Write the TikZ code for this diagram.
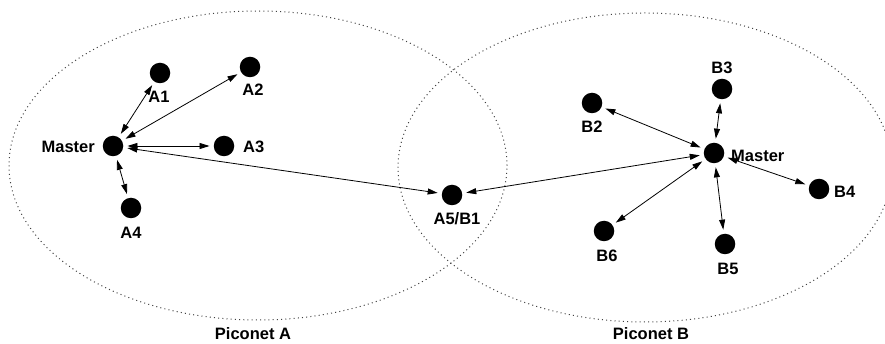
\documentclass[tikz,border=0pt]{standalone}
\usepackage{fontspec}
\setmainfont{Liberation Sans}
\usetikzlibrary{arrows.meta}
\begin{document}
\begin{tikzpicture}[x=1pt,y=-1pt,
  dev/.style={circle,fill=black,inner sep=0pt,minimum size=20.5pt},
  lbl/.style={font=\fontsize{16.5}{19}\selectfont\bfseries,inner sep=0pt},
  link/.style={{Triangle[length=10pt,width=6pt]}-{Triangle[length=10pt,width=6pt]},
    line width=0.8pt,shorten <=4pt,shorten >=4pt},
  piconet/.style={line width=1pt,dash pattern=on 1pt off 3.2pt,black!75}]
\useasboundingbox (0,0) rectangle (885,344);

% piconet boundaries
\draw[piconet] (258,165.5) ellipse [x radius=249pt,y radius=154.5pt];
\draw[piconet] (645,167.5) ellipse [x radius=247pt,y radius=154.5pt];

% piconet A devices
\node[dev] (ma) at (113,146) {};
\node[dev] (a1) at (160,73) {};
\node[dev] (a2) at (250,67) {};
\node[dev] (a3) at (224,146) {};
\node[dev] (a4) at (131,208) {};
% shared device
\node[dev] (ab) at (452,195) {};
% piconet B devices
\node[dev] (mb) at (714,153) {};
\node[dev] (b2) at (592,103) {};
\node[dev] (b3) at (722,89) {};
\node[dev] (b4) at (819,189) {};
\node[dev] (b5) at (725,244) {};
\node[dev] (b6) at (604,231) {};

% labels
\node[lbl,anchor=east] (lma) at (95,147) {Master};
\node[lbl] (la1) at (159,97) {A1};
\node[lbl] (la2) at (253,90) {A2};
\node[lbl,anchor=west] (la3) at (243,147) {A3};
\node[lbl] (la4) at (131,233) {A4};
\node[lbl] (lab) at (457,219) {A5/B1};
\node[lbl,anchor=west] (lmb) at (731,156) {Master};
\node[lbl] (lb2) at (592,127) {B2};
\node[lbl] (lb3) at (722,68) {B3};
\node[lbl,anchor=west] (lb4) at (834,192) {B4};
\node[lbl] (lb5) at (728,269) {B5};
\node[lbl] (lb6) at (607,256) {B6};
\node[lbl] (pa) at (253,334) {Piconet A};
\node[lbl] (pb) at (651,334) {Piconet B};

% links
\draw[link] (ma) -- (a1);
\draw[link] (ma) -- (a2);
\draw[link] (ma) -- (a3);
\draw[link] (ma) -- (a4);
\draw[link] (ma) -- (ab);
\draw[link] (mb) -- (ab);
\draw[link] (mb) -- (b2);
\draw[link] (mb) -- (b3);
\draw[link] (mb) -- (b4);
\draw[link] (mb) -- (b5);
\draw[link] (mb) -- (b6);
\end{tikzpicture}
\end{document}
